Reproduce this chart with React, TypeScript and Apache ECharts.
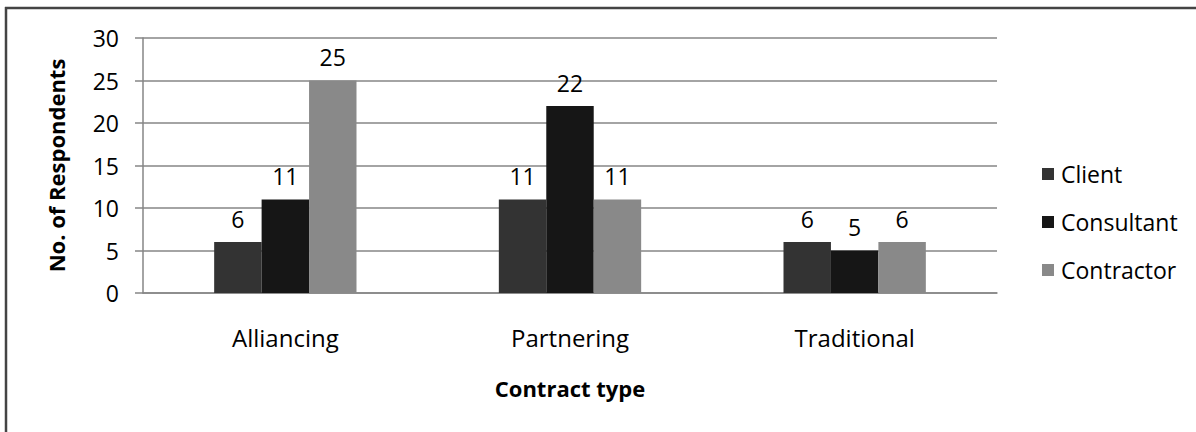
import React, { useEffect, useRef } from "react";
import * as echarts from "echarts";

const categories = ["Alliancing", "Partnering", "Traditional"];
const seriesNames = ["Client", "Consultant", "Contractor"];
const clientValues = [6, 11, 6];
const consultantValues = [11, 22, 5];
const contractorValues = [25, 11, 6];
const seriesColors = ["#333333", "#161616", "#898989"];

const FONT = "'Open Sans', sans-serif";

export default function App() {
  const ref = useRef<HTMLDivElement>(null);

  useEffect(() => {
    if (!ref.current) return;
    const chart = echarts.init(ref.current, undefined, { renderer: "svg" });
    const values = [clientValues, consultantValues, contractorValues];

    chart.setOption({
      animation: false,
      backgroundColor: "#ffffff",
      textStyle: { fontFamily: FONT },
      grid: { left: 143, right: 199, top: 38, bottom: 139 },
      legend: {
        orient: "vertical",
        left: 1037,
        top: 155,
        icon: "rect",
        itemWidth: 12,
        itemHeight: 12,
        itemGap: 20,
        data: seriesNames,
        textStyle: {
          fontFamily: FONT,
          fontSize: 23,
          color: "#000000",
          lineHeight: 28,
          padding: [0, 0, 0, 2],
        },
      },
      xAxis: {
        type: "category",
        data: categories,
        name: "Contract type",
        nameLocation: "middle",
        nameGap: 84,
        nameTextStyle: { fontFamily: FONT, fontSize: 22, fontWeight: "bold", color: "#000000" },
        axisLine: { lineStyle: { color: "#868686", width: 1.5 } },
        axisTick: { show: false },
        axisLabel: { fontFamily: FONT, fontSize: 24, color: "#000000", margin: 32 },
      },
      yAxis: {
        type: "value",
        min: 0,
        max: 30,
        interval: 5,
        name: "No. of Respondents",
        nameLocation: "middle",
        nameGap: 76,
        nameTextStyle: { fontFamily: FONT, fontSize: 22, fontWeight: "bold", color: "#000000" },
        axisLine: { show: true, lineStyle: { color: "#868686", width: 1.5 } },
        axisTick: { show: true, inside: false, length: 8, lineStyle: { color: "#868686", width: 1.5 } },
        axisLabel: { fontFamily: FONT, fontSize: 23, color: "#000000", margin: 24 },
        splitLine: { show: true, lineStyle: { color: "#868686", width: 1.5 } },
      },
      series: seriesNames.map((name, i) => ({
        name,
        type: "bar",
        data: values[i],
        barGap: "0%",
        barCategoryGap: "50%",
        itemStyle: { color: seriesColors[i] },
        label: {
          show: true,
          position: "top",
          distance: 12,
          fontFamily: FONT,
          fontSize: 23,
          color: "#000000",
        },
      })),
      graphic: [
        {
          type: "line",
          shape: { x1: 5, y1: 8, x2: 1196, y2: 8 },
          style: { stroke: "#444444", lineWidth: 2.5 },
        },
        {
          type: "line",
          shape: { x1: 6, y1: 7, x2: 6, y2: 432 },
          style: { stroke: "#444444", lineWidth: 2.5 },
        },
      ],
    });

    return () => chart.dispose();
  }, []);

  return (
    <div
      ref={ref}
      style={{ position: "fixed", left: 0, top: 0, width: 1196, height: 432 }}
    />
  );
}
